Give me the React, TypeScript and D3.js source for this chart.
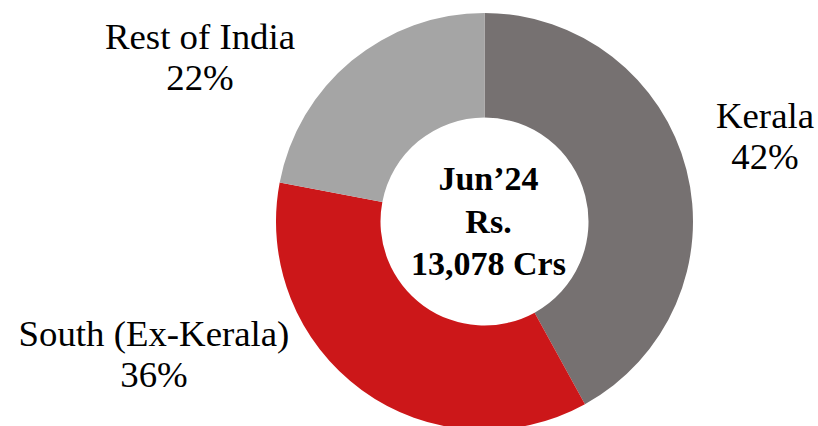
import React, { useEffect, useRef } from 'react';
import * as d3 from 'd3';

const regions = ['Kerala', 'South (Ex-Kerala)', 'Rest of India'];
const shares = [42, 36, 22];
const colors = ['#767171', '#CC1719', '#A5A5A5'];
const centerLines = ['Jun\u201924', 'Rs.', '13,078 Crs'];

// label anchor (middle of the first line's baseline) for each slice
const labelPos: Array<[number, number]> = [
  [765, 128],
  [154, 346],
  [200, 49],
];

export default function App() {
  const svgRef = useRef<SVGSVGElement>(null);

  useEffect(() => {
    if (!svgRef.current) return;
    const svg = d3.select(svgRef.current);
    svg.selectAll('*').remove();

    const cx = 484.5;
    const cy = 221.5;
    const outerR = 208.5;
    const innerR = 104;

    const pie = d3.pie<number>().sort(null).value(d => d);
    const arcs = pie(shares);
    const arc = d3.arc<d3.PieArcDatum<number>>()
      .innerRadius(innerR)
      .outerRadius(outerR);

    const g = svg.append('g').attr('transform', `translate(${cx},${cy})`);

    g.selectAll('path')
      .data(arcs)
      .enter()
      .append('path')
      .attr('d', arc)
      .attr('fill', (_, i) => colors[i])
      .attr('stroke', 'none');

    // slice labels
    const labels = svg.append('g')
      .attr('font-family', '"Liberation Serif", "Times New Roman", serif')
      .attr('font-size', 36.8)
      .attr('fill', '#000')
      .attr('text-anchor', 'middle');

    regions.forEach((name, i) => {
      const [x, y] = labelPos[i];
      labels.append('text').attr('x', x).attr('y', y).text(name);
      labels.append('text').attr('x', x).attr('y', y + 41).text(`${shares[i]}%`);
    });

    // centre text
    const center = svg.append('g')
      .attr('font-family', '"Liberation Serif", "Times New Roman", serif')
      .attr('font-size', 34)
      .attr('font-weight', 'bold')
      .attr('fill', '#000')
      .attr('text-anchor', 'middle');

    centerLines.forEach((line, i) => {
      center.append('text')
        .attr('x', cx + 4)
        .attr('y', 190 + i * 42.5)
        .text(line);
    });
  }, []);

  return (
    <svg
      ref={svgRef}
      width={818}
      height={426}
      style={{ position: 'absolute', left: 0, top: 0, background: '#fff' }}
    />
  );
}
